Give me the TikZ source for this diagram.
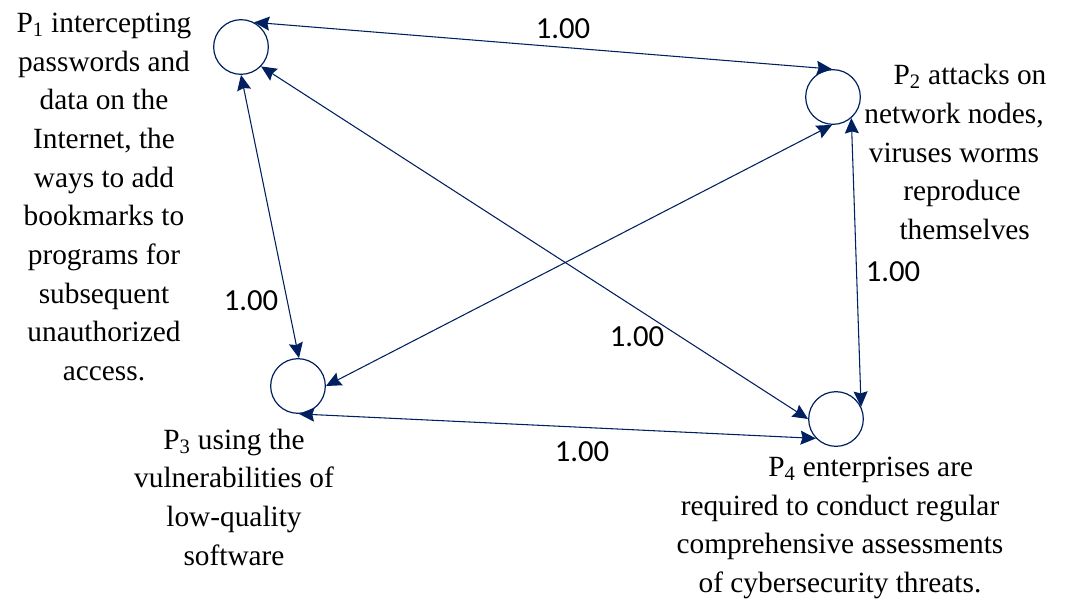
\documentclass[tikz,border=0pt]{standalone}
\usepackage{fontspec}
\setmainfont{Liberation Serif}
\newfontfamily\weightfont{Carlito}
\usepackage{xcolor}
\usepackage{tikz}
\usetikzlibrary{arrows.meta}

\definecolor{navy}{RGB}{0,32,96}

\begin{document}
\begin{tikzpicture}[
    x=0.75pt, y=-0.75pt,
    state/.style={
      circle, draw=navy, line width=0.9pt,
      minimum size=41pt, inner sep=0pt
    },
    desc/.style={
      align=center, inner sep=0pt,
      font=\fontsize{22}{29}\selectfont
    },
    wlabel/.style={
      inner sep=0pt,
      font=\weightfont\fontsize{23}{26}\selectfont
    },
    link/.style={
      {Stealth[length=11.5pt, width=10.5pt, inset=1.5pt]}-{Stealth[length=11.5pt, width=10.5pt, inset=1.5pt]},
      line width=0.8pt, color=navy
    }
  ]
    \useasboundingbox (0,0) rectangle (1078,604);

    % states
    \node[state] (p1) at (241,47) {};
    \node[state] (p2) at (833,97) {};
    \node[state] (p3) at (298,386) {};
    \node[state] (p4) at (836,419) {};

    % descriptions
    \node[desc] (d1) at (104,197) {
      P\textsubscript{1} intercepting\\
      passwords and\\
      data on the\\
      Internet, the\\
      ways to add\\
      bookmarks to\\
      programs for\\
      subsequent\\
      unauthorized\\
      access.
    };
    \node[desc] (d2) at (954,152) {
      \hspace*{24pt}P\textsubscript{2} attacks on\\
      network nodes,\\
      viruses worms\\
      \hspace*{12pt}reproduce\\
      \hspace*{16pt}themselves
    };
    \node[desc] (d3) at (234,497) {
      P\textsubscript{3} using the\\
      vulnerabilities of\\
      low-quality\\
      software
    };
    \node[desc] (d4) at (840,528) {
      \hspace*{46pt}P\textsubscript{4} enterprises are\\
      required to conduct regular\\
      comprehensive assessments\\
      of cybersecurity threats.
    };

    % links
    \draw[link] (p1.62) -- (p2.92);
    \draw[link] (p1.-44) -- (p4.180);
    \draw[link] (p1.-90) -- (p3.88);
    \draw[link] (p2.-92) -- (p3.0);
    \draw[link] (p2.-49) -- (p4.26);
    \draw[link] (p3.-88) -- (p4.-136);

    % weights
    \node[wlabel] (w12) at (563,29) {1.00};
    \node[wlabel] (w13) at (251,301) {1.00};
    \node[wlabel] (w14) at (637,337) {1.00};
    \node[wlabel] (w24) at (893,272) {1.00};
    \node[wlabel] (w34) at (582,452) {1.00};
  \end{tikzpicture}
\end{document}
